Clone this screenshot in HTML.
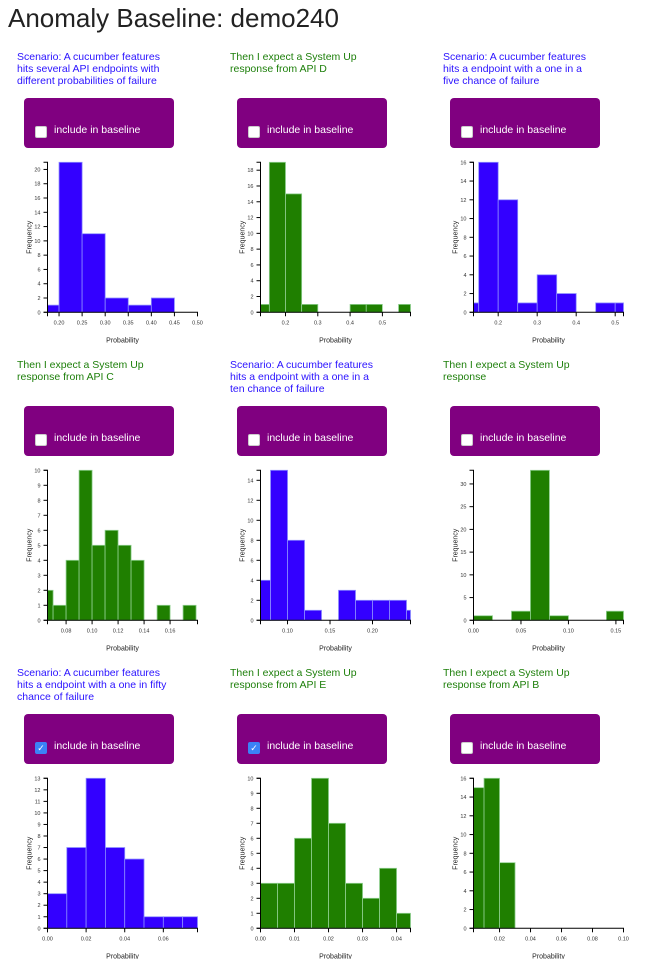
<!DOCTYPE html>
<html><head><meta charset="utf-8">
<style>
body{margin:0;width:650px;height:959px;overflow:hidden;background:#fff;font-family:"Liberation Sans",sans-serif;position:relative}
h1{position:absolute;left:8px;top:3px;margin:0;font-size:26px;font-weight:normal;color:#222}
.title{position:absolute;font-size:10.5px;line-height:12px;width:175px}
.blue{color:#2a12ff}.green{color:#1d7f0a}
.box{position:absolute;width:150px;height:50px;background:#800080;border-radius:4px}
.cb{position:absolute;left:11px;top:28px;width:10px;height:10px;background:#fff;border-radius:2px;border:1px solid #ccc}
.cb.on{background:#3b82f6;border-color:#3b82f6;color:#fff;font-size:9px;line-height:10px;text-align:center}
.lbl{position:absolute;left:30px;top:26px;color:#fff;font-size:10.5px}
svg{position:absolute;left:0;top:0}
</style></head><body>
<h1>Anomaly Baseline: demo240</h1>
<div id="root"></div>
<svg id="charts" width="650" height="959"></svg>
<script>
const titles=[
["Scenario: A cucumber features","hits several API endpoints with","different probabilities of failure"],
["Then I expect a System Up","response from API D"],
["Scenario: A cucumber features","hits a endpoint with a one in a","five chance of failure"],
["Then I expect a System Up","response from API C"],
["Scenario: A cucumber features","hits a endpoint with a one in a","ten chance of failure"],
["Then I expect a System Up","response"],
["Scenario: A cucumber features","hits a endpoint with a one in fifty","chance of failure"],
["Then I expect a System Up","response from API E"],
["Then I expect a System Up","response from API B"]];
const colors=["blue","green","blue","green","blue","green","blue","green","green"];
const checked=[false,false,false,false,false,false,true,true,false];

const c1Domain=[0.175,0.50],c1Start=[0.175,0.20,0.25,0.30,0.35,0.40],c1End=[0.20,0.25,0.30,0.35,0.40,0.45],c1Counts=[1,21,11,2,1,2],c1XTicks=[0.20,0.25,0.30,0.35,0.40,0.45,0.50],c1YTicks=[0,2,4,6,8,10,12,14,16,18,20];
const c2Domain=[0.1226,0.587],c2Start=[0.1226,0.15,0.20,0.25,0.40,0.45,0.55],c2End=[0.15,0.20,0.25,0.30,0.45,0.50,0.587],c2Counts=[1,19,15,1,1,1,1],c2XTicks=[0.2,0.3,0.4,0.5],c2YTicks=[0,2,4,6,8,10,12,14,16,18];
const c3Domain=[0.1367,0.5213],c3Start=[0.1367,0.15,0.20,0.25,0.30,0.35,0.45,0.50],c3End=[0.15,0.20,0.25,0.30,0.35,0.40,0.50,0.5213],c3Counts=[1,16,12,1,4,2,1,1],c3XTicks=[0.2,0.3,0.4,0.5],c3YTicks=[0,2,4,6,8,10,12,14,16];
const c4Domain=[0.0657,0.1811],c4Start=[0.0657,0.07,0.08,0.09,0.10,0.11,0.12,0.13,0.15,0.17],c4End=[0.07,0.08,0.09,0.10,0.11,0.12,0.13,0.14,0.16,0.18],c4Counts=[2,1,4,10,5,6,5,4,1,1],c4XTicks=[0.08,0.10,0.12,0.14,0.16],c4YTicks=[0,1,2,3,4,5,6,7,8,9,10];
const c5Domain=[0.0682,0.2447],c5Start=[0.0682,0.08,0.10,0.12,0.16,0.18,0.20,0.22,0.24],c5End=[0.08,0.10,0.12,0.14,0.18,0.20,0.22,0.24,0.2447],c5Counts=[4,15,8,1,3,2,2,2,1],c5XTicks=[0.10,0.15,0.20],c5YTicks=[0,2,4,6,8,10,12,14];
const c6Domain=[0,0.158],c6Start=[0,0.04,0.06,0.08,0.14],c6End=[0.02,0.06,0.08,0.10,0.158],c6Counts=[1,2,33,1,2],c6XTicks=[0,0.05,0.10,0.15],c6YTicks=[0,5,10,15,20,25,30];
const c7Domain=[0,0.0777],c7Start=[0,0.01,0.02,0.03,0.04,0.05,0.06,0.07],c7End=[0.01,0.02,0.03,0.04,0.05,0.06,0.07,0.0777],c7Counts=[3,7,13,7,6,1,1,1],c7XTicks=[0,0.02,0.04,0.06],c7YTicks=[0,1,2,3,4,5,6,7,8,9,10,11,12,13];
const c8Domain=[0,0.0441],c8Start=[0,0.005,0.01,0.015,0.02,0.025,0.03,0.035,0.04],c8End=[0.005,0.01,0.015,0.02,0.025,0.03,0.035,0.04,0.0441],c8Counts=[3,3,6,10,7,3,2,4,1],c8XTicks=[0,0.01,0.02,0.03,0.04],c8YTicks=[0,1,2,3,4,5,6,7,8,9,10];
const c9Domain=[0.0032,0.10],c9Start=[0.0032,0.01,0.02],c9End=[0.01,0.02,0.03],c9Counts=[15,16,7],c9XTicks=[0.02,0.04,0.06,0.08,0.10],c9YTicks=[0,2,4,6,8,10,12,14,16];

const charts=[
[c1Domain,c1Start,c1End,c1Counts,c1XTicks,c1YTicks],
[c2Domain,c2Start,c2End,c2Counts,c2XTicks,c2YTicks],
[c3Domain,c3Start,c3End,c3Counts,c3XTicks,c3YTicks],
[c4Domain,c4Start,c4End,c4Counts,c4XTicks,c4YTicks],
[c5Domain,c5Start,c5End,c5Counts,c5XTicks,c5YTicks],
[c6Domain,c6Start,c6End,c6Counts,c6XTicks,c6YTicks],
[c7Domain,c7Start,c7End,c7Counts,c7XTicks,c7YTicks],
[c8Domain,c8Start,c8End,c8Counts,c8XTicks,c8YTicks],
[c9Domain,c9Start,c9End,c9Counts,c9XTicks,c9YTicks]];
const xDecimals=[2,1,1,2,2,2,2,2,2];

const root=document.getElementById('root');
const svg=document.getElementById('charts');
const NS='http://www.w3.org/2000/svg';
function mk(tag,attrs){const e=document.createElementNS(NS,tag);for(const k in attrs)e.setAttribute(k,attrs[k]);svg.appendChild(e);return e;}

for(let i=0;i<9;i++){
  const col=i%3,row=Math.floor(i/3);
  const ox=col*213,oy=row*308;
  const t=document.createElement('div');
  t.className='title '+colors[i];
  t.style.left=(17+ox)+'px';t.style.top=(51+oy)+'px';
  t.innerHTML=titles[i].join('<br>');
  
  
  root.appendChild(t);
  const b=document.createElement('div');
  b.className='box';b.style.left=(24+ox)+'px';b.style.top=(98+oy)+'px';
  
  
  const cb=document.createElement('div');
  cb.className='cb'+(checked[i]?' on':'');
  if(checked[i])cb.textContent='✓';
  
  
  b.appendChild(cb);
  const l=document.createElement('div');l.className='lbl';l.textContent='include in baseline';
  
  
  b.appendChild(l);
  root.appendChild(b);

  const [dom,st,en,cnt,xt,yt]=charts[i];
  const ax=47.5+ox, bottom=312.3+oy, H=150, W=150;
  const ymax=Math.max(...cnt);
  const xs=v=>ax+(v-dom[0])/(dom[1]-dom[0])*W;
  const ys=v=>bottom-v/ymax*H;
  const fill=colors[i]==='blue'?'#3300ff':'#1f7f00';
  const stroke=colors[i]==='blue'?'#8c8cff':'#8fcf8f';
  for(let j=0;j<cnt.length;j++){
    const r=mk('rect',{x:xs(st[j]),y:ys(cnt[j]),width:xs(en[j])-xs(st[j]),height:bottom-ys(cnt[j]),fill:fill,stroke:stroke,'stroke-width':0.8});
    
    
  }
  const xa=mk('path',{d:`M${ax},${bottom+4}V${bottom}H${ax+W}V${bottom+4}`,stroke:'#000',fill:'none','stroke-width':1});
  
  
  const ya=mk('path',{d:`M${ax-4},${bottom-H}H${ax}V${bottom}H${ax-4}`,stroke:'#000',fill:'none','stroke-width':1});
  
  
  xt.forEach(v=>{
    mk('line',{x1:xs(v),x2:xs(v),y1:bottom,y2:bottom+4,stroke:'#000'});
    const tx=mk('text',{x:xs(v),y:bottom+12,'font-size':5.5,'text-anchor':'middle',fill:'#333'});
    tx.textContent=v.toFixed(xDecimals[i]);
    
    
  });
  yt.forEach(v=>{
    mk('line',{x1:ax-4,x2:ax,y1:ys(v),y2:ys(v),stroke:'#000'});
    const ty=mk('text',{x:ax-7,y:ys(v)+2,'font-size':5.5,'text-anchor':'end',fill:'#333'});
    ty.textContent=v;
    
    
  });
  const xl=mk('text',{x:ax+W/2,y:bottom+30,'font-size':7,'text-anchor':'middle',fill:'#222'});
  xl.textContent='Probability';
  
  
  const yl=mk('text',{x:0,y:0,'font-size':7,'text-anchor':'middle',fill:'#222',transform:`translate(${ax-16},${bottom-H/2}) rotate(-90)`});
  yl.textContent='Frequency';
  
  
}
</script>
</body></html>
